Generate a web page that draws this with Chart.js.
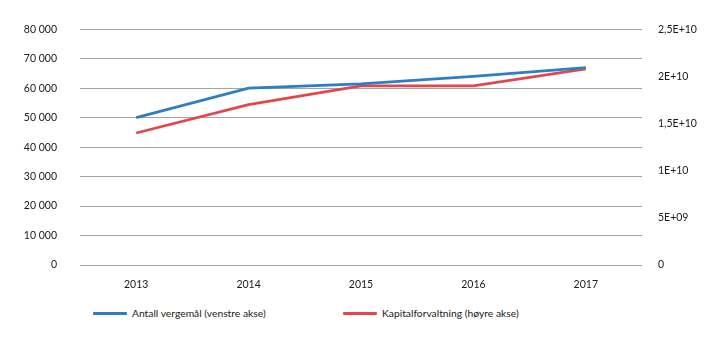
<!DOCTYPE html>
<html>
<head>
<meta charset="utf-8">
<script src="https://cdn.jsdelivr.net/npm/chart.js@4.4.1/dist/chart.umd.min.js"></script>
<style>
  html, body { margin: 0; padding: 0; background: #fff; }
  body { width: 720px; height: 341px; overflow: hidden; font-family: Lato, sans-serif; }
  #wrap { position: relative; width: 720px; height: 300px; }
  #legend { position: relative; height: 41px; font-size: 10.3px; color: #1a1a1a; }
  .item { position: absolute; top: 0; display: flex; align-items: center; height: 26px; white-space: nowrap; }
  .swatch { display: inline-block; width: 34px; height: 3px; margin-right: 5px; border-radius: 1px; }
</style>
</head>
<body>
<div id="wrap"><canvas id="chart"></canvas></div>
<div id="legend"></div>
<script>
const years = ['2013', '2014', '2015', '2016', '2017'];
const vergemal = [50000, 60000, 61500, 64000, 67000];
const kapital = [1.40e10, 1.70e10, 1.90e10, 1.90e10, 2.08e10];
const rightTickValues = [0, 5e9, 1e10, 1.5e10, 2e10, 2.5e10];
const rightTickLabels = ['0', '5E+09', '1E+10', '1,5E+10', '2E+10', '2,5E+10'];

const seriesNames = ['Antall vergemål (venstre akse)', 'Kapitalforvaltning (høyre akse)'];
const blue = '#2e7ec1';
const red = '#e1484d';

function spaced(v) {
    return String(v).replace(/\B(?=(\d{3})+(?!\d))/g, ' ');
}

const font = { family: 'Lato, sans-serif', size: 10.5 };

new Chart(document.getElementById('chart'), {
    type: 'line',
    data: {
        labels: years,
        datasets: [{
                label: seriesNames[0],
                data: vergemal,
                borderColor: blue,
                borderWidth: 2.8,
                pointRadius: 0,
                yAxisID: 'y'
            },
            {
                label: seriesNames[1],
                data: kapital,
                borderColor: red,
                borderWidth: 2.8,
                pointRadius: 0,
                yAxisID: 'y2'
            }
        ]
    },
    options: {
        responsive: true,
        maintainAspectRatio: false,
        animation: false,
        layout: { padding: { top: 18, bottom: 0 } },
        plugins: { legend: { display: false }, tooltip: { enabled: false } },
        scales: {
            x: {
                offset: true,
                afterFit: s => { s.height = 35; },
                grid: { display: false, drawTicks: false },
                border: { display: false },
                ticks: { color: '#1a1a1a', font: font, padding: 13 }
            },
            y: {
                position: 'left',
                min: 0,
                max: 80000,
                afterFit: s => { s.width = 80; },
                grid: { color: '#a3a3a3', lineWidth: 1, drawTicks: false },
                border: { display: false },
                ticks: {
                    stepSize: 10000,
                    padding: 23,
                    color: '#1a1a1a',
                    font: font,
                    callback: v => spaced(v)
                }
            },
            y2: {
                position: 'right',
                min: 0,
                max: 2.5e10,
                afterFit: s => { s.width = 78; },
                afterBuildTicks: s => { s.ticks = rightTickValues.map(v => ({ value: v })); },
                grid: { drawOnChartArea: false, drawTicks: false },
                border: { display: false },
                ticks: {
                    padding: 16,
                    color: '#1a1a1a',
                    font: font,
                    callback: v => rightTickLabels[rightTickValues.indexOf(v)]
                }
            }
        }
    }
});

// legend laid out under the plot, one entry per series
const legend = document.getElementById('legend');
[[blue, 93], [red, 343]].forEach(function(c, i) {
    const item = document.createElement('div');
    item.className = 'item';
    item.style.left = c[1] + 'px';
    item.innerHTML = '<span class="swatch" style="background:' + c[0] + '"></span>' + seriesNames[i];
    legend.appendChild(item);
});
</script>
</body>
</html>
